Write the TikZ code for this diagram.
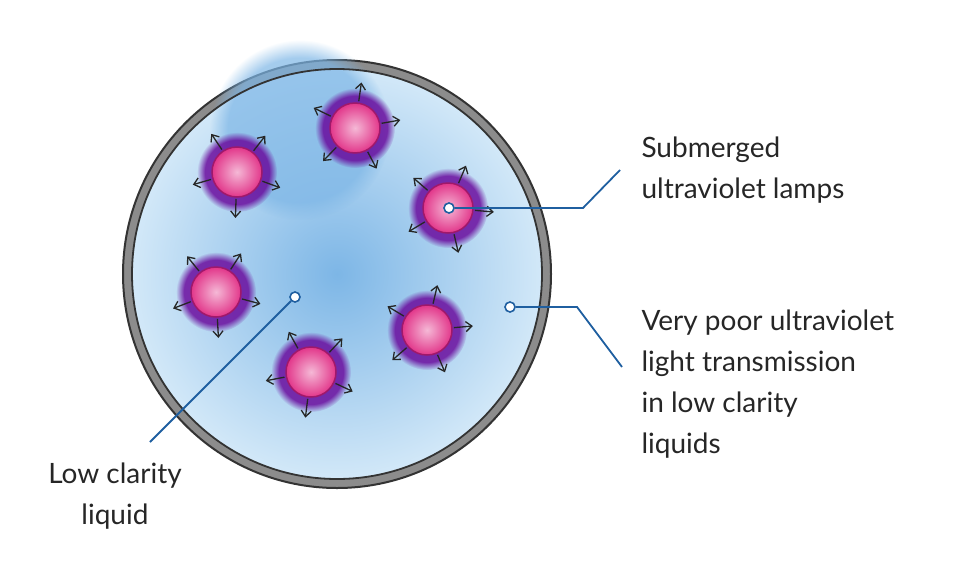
\documentclass[tikz,border=0pt]{standalone}
\usepackage{fontspec}
\setmainfont{Lato}
\usetikzlibrary{arrows.meta,calc,fadings}
\definecolor{lineblue}{HTML}{1F5FA0}
\definecolor{wallgray}{HTML}{8C8C8C}
\definecolor{lamppink}{HTML}{E2368A}
\definecolor{lampedge}{HTML}{A0186A}
\definecolor{liqdark}{HTML}{7DB6E6}
\definecolor{liqlight}{HTML}{D2E8F8}
\tikzset{
  lamp/.style={circle, minimum size=50pt, draw=lampedge, line width=1.5pt,
    inner color=lamppink!35, outer color=lamppink},
  ray/.style={-{Straight Barb[length=6pt,width=10pt]}, line width=1.3pt, black!85},
  leader/.style={draw=lineblue, line width=1.8pt},
  dot/.style={circle, draw=lineblue, fill=white, line width=1.6pt, inner sep=0pt, minimum size=10pt},
  label/.style={font=\fontsize{28}{41}\selectfont, text=black!85, align=left}
}
\begin{document}
\begin{tikzpicture}[x=1pt,y=-1pt]
        \useasboundingbox (0,0) rectangle (960,560);
        % tank
        \fill[wallgray] (337,274) circle (214);
        \draw[black!80, line width=2pt] (337,274) circle (214);
        \shade[inner color=liqdark, outer color=liqlight] (337,274) circle (205);
        \fill[liqdark, path fading=circle with fuzzy edge 20 percent, opacity=0.7] (300,130) circle (90);
        \draw[black!80, line width=1.8pt] (337,274) circle (205);
        % lamps
        \foreach \x/\y/\r [count=\i] in {237/172/20, 355/128/-10, 448/208/5, 216/292/15, 427/330/-5, 311/372/25} {
          \fill[violet!80!blue, path fading=circle with fuzzy edge 20 percent, opacity=0.8] (\x,\y) circle (40);
          \node[lamp] (lamp\i) at (\x,\y) {};
          \foreach \a in {0,72,144,216,288}
            \draw[ray] ($(\x,\y)+(\a+\r:27)$) -- ($(\x,\y)+(\a+\r:46)$);
        }
        % leaders
        \node[dot] (d1) at (449,208) {};
        \coordinate (k1) at (583,208);
        \coordinate (e1) at (620,170);
        \draw[leader] (d1) -- (k1) -- (e1);
        \node[dot] (d2) at (510,307) {};
        \coordinate (k2) at (577,307);
        \coordinate (e2) at (622,367);
        \draw[leader] (d2) -- (k2) -- (e2);
        \node[dot] (d3) at (295,297) {};
        \coordinate (e3) at (150,442);
        \draw[leader] (d3) -- (e3);
        % texts
        \node[label, anchor=west] (t1) at (638,170) {Submerged\\ultraviolet lamps};
        \node[label, anchor=west] (t2) at (638,384) {Very poor ultraviolet\\light transmission\\in low clarity\\liquids};
        \node[label, align=center] (t3) at (115,496) {Low clarity\\liquid};
    \end{tikzpicture}
\end{document}
